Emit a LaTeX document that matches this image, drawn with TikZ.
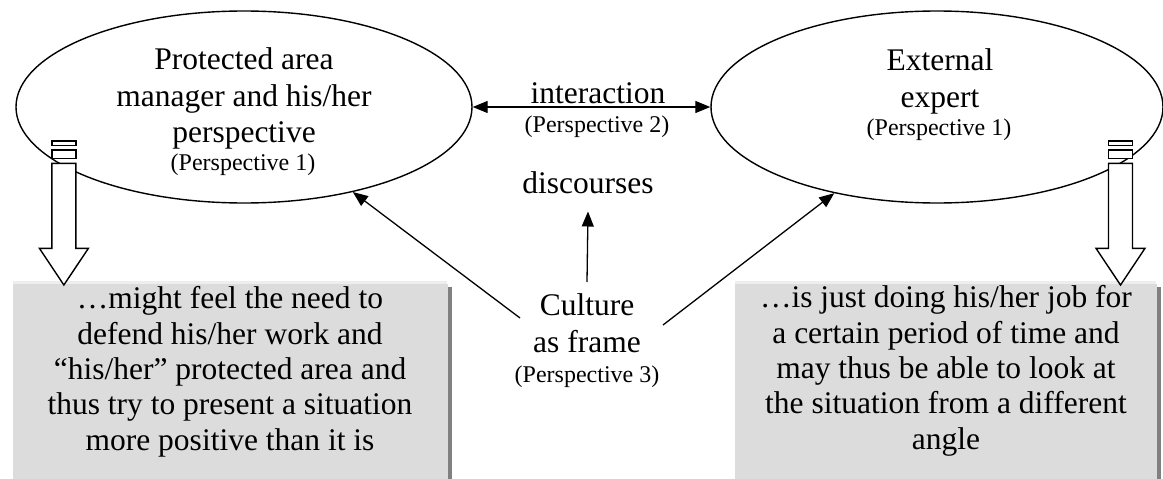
\documentclass[tikz,border=0pt]{standalone}
\usepackage{fontspec}
\setmainfont{Liberation Serif}
\usetikzlibrary{arrows.meta,shapes.geometric,shadows}

\definecolor{boxgray}{HTML}{DCDCDC}
\definecolor{boxlight}{HTML}{EEEEEE}
\definecolor{boxshadow}{HTML}{808080}

\newcommand\bigtxt{\fontsize{31.5}{36.6}\selectfont}
\newcommand\boxtxt{\fontsize{31.5}{35.3}\selectfont}
\newcommand\smalltxt{\fontsize{24}{28}\selectfont}

\begin{document}
\begin{tikzpicture}[x=1pt,y=-1pt,
  oval/.style={draw, line width=1.4pt, ellipse, minimum height=192pt, inner sep=0pt},
  bigt/.style={inner sep=0pt, align=center, font=\bigtxt},
  boxt/.style={inner sep=0pt, align=center, font=\boxtxt},
  smallt/.style={inner sep=0pt, align=center, font=\smalltxt},
  graybox/.style={fill=boxgray, inner sep=0pt, minimum height=220pt, anchor=north west,
    drop shadow={shadow xshift=3.5pt, shadow yshift=-3pt, fill=boxshadow, opacity=1}},
  arr/.style={line width=1.3pt, -{Triangle[length=15pt, width=12pt]}},
  arrboth/.style={line width=1.3pt, {Triangle[length=15pt, width=12pt]}-{Triangle[length=15pt, width=12pt]}},
  blockarrow/.pic={
    \begin{scope}[line width=1.4pt, fill=white]
      \filldraw (-12,0) rectangle (12,4.7);
      \filldraw (-12,9) rectangle (12,17.3);
      \filldraw (-12,22.3) -- (-12,107.3) -- (-24.5,107.3) -- (0,144)
                -- (24.5,107.3) -- (12,107.3) -- (12,22.3) -- cycle;
    \end{scope}
  }
]
\useasboundingbox (0,0) rectangle (1163,479);
\clip (0,0) rectangle (1163,479);

% the two perspectives (multi-line texts are placed by their last baseline)
\node[oval, minimum width=456pt] (lell) at (244,107) {};
\node[oval, minimum width=452pt] (rell) at (937,107) {};

\node[bigt, anchor=base] (ltitle) at (244,142.7) {Protected area\\manager and his/her\\perspective};
\node[smallt, anchor=base] (lpersp) at (243,170) {(Perspective 1)};
\node[bigt, anchor=base] (rtitle) at (940,107) {External\\expert};
\node[smallt, anchor=base] (rpersp) at (939,135) {(Perspective 1)};

% interaction between them
\node[bigt, anchor=base] (inter) at (598,103) {interaction};
\node[smallt, anchor=base] (p2) at (597,132) {(Perspective 2)};
\draw[arrboth] (lell.east) -- (rell.west);

% culture as frame
\node[bigt, anchor=base] (disc) at (588,193) {discourses};
\node[bigt, anchor=base] (culture) at (587,352) {Culture\\as frame};
\node[smallt, anchor=base] (p3) at (587,382) {(Perspective 3)};

\coordinate (cultL) at (520,318);
\coordinate (cultR) at (663,325);
\coordinate (cultTop) at (587,282);
\draw[arr] (cultL) -- (lell.-38.2);
\draw[arr] (cultR) -- (rell.220.6);
\draw[arr] (cultTop) -- ([yshift=-18pt]disc.south);

% consequence boxes
\node[graybox, minimum width=435pt] (lbox) at (13,284) {};
\node[graybox, minimum width=422pt] (rbox) at (735,284) {};
\fill[boxlight] ([yshift=3.3pt]lbox.north west) rectangle ([xshift=-1pt]lbox.north east);
\fill[boxlight] ([yshift=3.3pt]rbox.north west) rectangle ([xshift=-1pt]rbox.north east);

\node[boxt, anchor=base] (ltext) at (230,450) {…might feel the need to\\defend his/her work and\\“his/her” protected area and\\thus try to present a situation\\more positive than it is};
\node[boxt, anchor=base] (rtext) at (946,449) {…is just doing his/her job for\\a certain period of time and\\may thus be able to look at\\the situation from a different\\angle};

% striped block arrows leading down into the boxes
\pic at (63.9,141) {blockarrow};
\pic at (1120.5,141) {blockarrow};
\end{tikzpicture}
\end{document}
